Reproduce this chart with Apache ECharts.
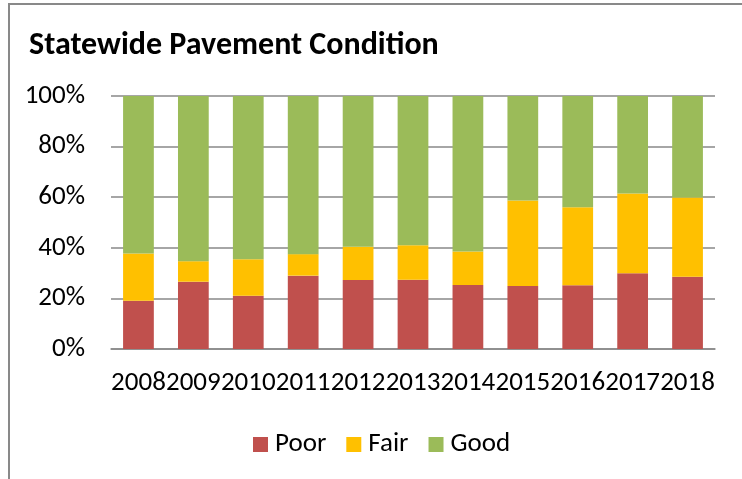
<!DOCTYPE html>
<html>
<head>
<meta charset="utf-8">
<script src="https://cdn.jsdelivr.net/npm/echarts@6/dist/echarts.min.js"></script>
<style>
  html, body { margin: 0; padding: 0; background: #fff; }
  #chart { width: 742px; height: 479px; }
</style>
</head>
<body>
<div id="chart"></div>
<script>
const years = ['2008', '2009', '2010', '2011', '2012', '2013', '2014', '2015', '2016', '2017', '2018']
const poor = [19.1, 26.6, 21.0, 29.0, 27.3, 27.4, 25.3, 24.9, 25.2, 29.9, 28.6]
const fair = [18.6, 8.1, 14.5, 8.5, 13.1, 13.6, 13.2, 33.8, 30.8, 31.6, 31.3]
const good = [62.3, 65.3, 64.5, 62.5, 59.6, 59.0, 61.5, 41.3, 44.0, 38.5, 40.1]

const font = 'Carlito, "Open Sans", sans-serif'

const myChart = echarts.init(document.getElementById('chart'))

const barSeries = (name, data, color) => ({
  name,
  type: 'bar',
  stack: 'total',
  data,
  barWidth: '56%',
  itemStyle: { color },
})

myChart.setOption({
  animation: false,
  backgroundColor: '#fff',
  title: {
    text: 'Statewide Pavement Condition',
    left: 24,
    top: 25,
    textStyle: { fontFamily: font, fontSize: 32, fontWeight: 'bold', color: '#000' },
  },
  graphic: [
    {
      type: 'rect',
      shape: { x: 9, y: 4, width: 800, height: 600 },
      style: { fill: 'none', stroke: '#898989', lineWidth: 2 },
    },
  ],
  legend: {
    left: 248,
    top: 426,
    itemWidth: 15,
    itemHeight: 15,
    itemGap: 20,
    icon: 'rect',
    textStyle: { fontFamily: font, fontSize: 27, color: '#000', padding: [0, 0, 0, 2] },
  },
  grid: { left: 111, right: 27, top: 96, bottom: 130 },
  xAxis: {
    type: 'category',
    data: years,
    axisTick: { show: false },
    axisLine: { lineStyle: { color: '#898989', width: 1.5 } },
    axisLabel: { fontFamily: font, fontSize: 27, color: '#000', margin: 21, interval: 0 },
  },
  yAxis: {
    type: 'value',
    min: 0,
    max: 100,
    interval: 20,
    axisLabel: { fontFamily: font, fontSize: 27, color: '#000', margin: 26, formatter: '{value}%' },
    splitLine: { lineStyle: { color: '#898989', width: 1.5 } },
  },
  series: [
    barSeries('Poor', poor, '#C0504D'),
    barSeries('Fair', fair, '#FFC000'),
    barSeries('Good', good, '#9BBB59'),
  ],
})
</script>
</body>
</html>
